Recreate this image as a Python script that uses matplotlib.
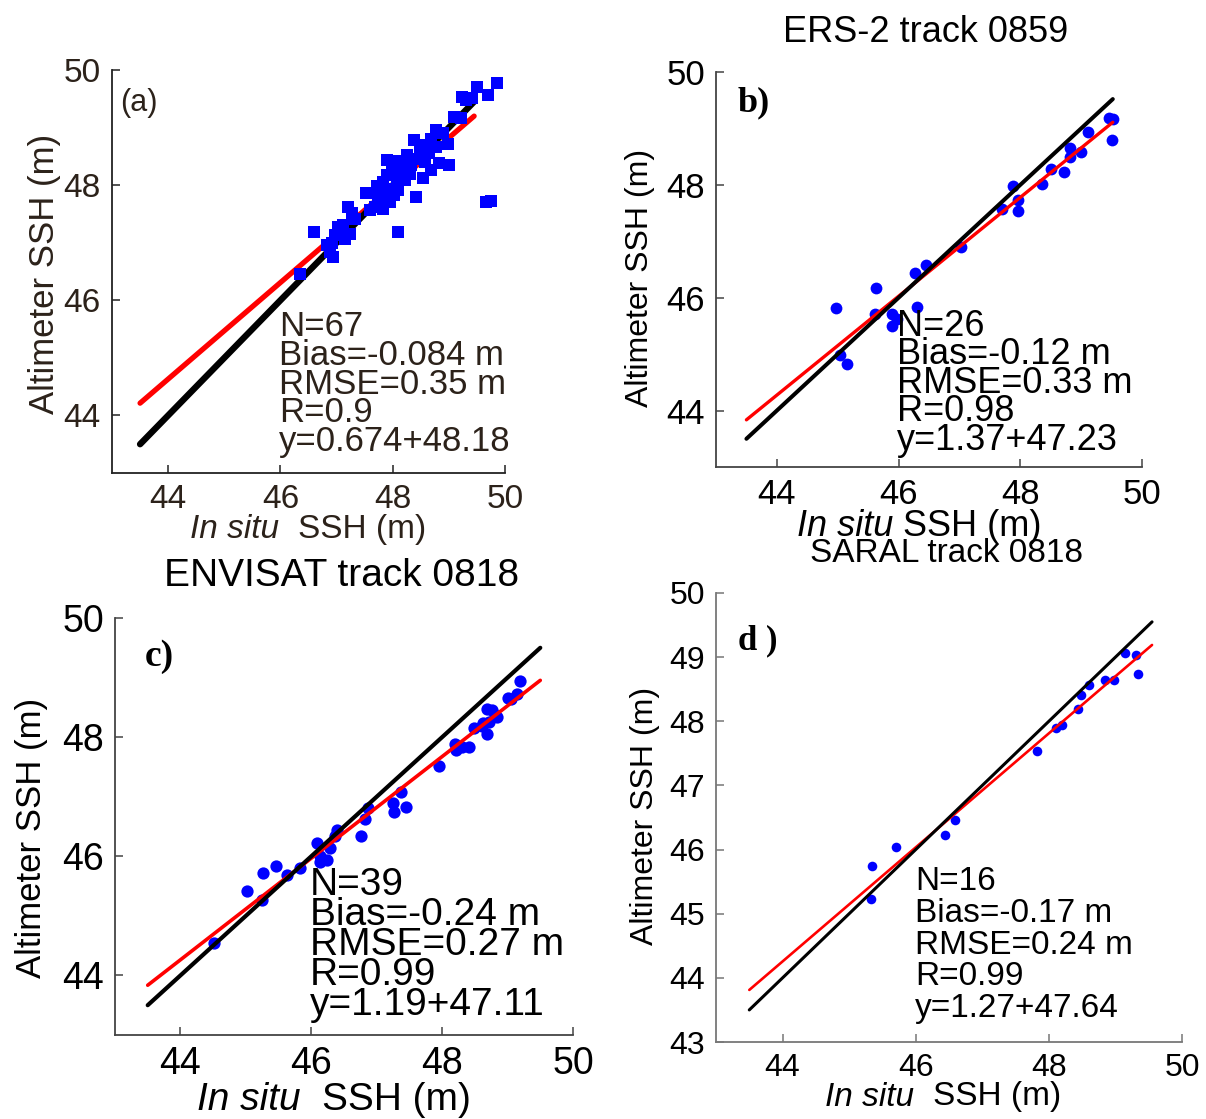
import matplotlib
matplotlib.use("Agg")
import matplotlib.pyplot as plt
import numpy as np

# ---------------- data ----------------
# (a) 67 collocations (squares)
insitu_a = [49.85, 49.51, 49.70, 49.23, 49.41, 49.30, 49.10, 49.22, 48.77, 48.89,
            48.68, 48.98, 48.60, 48.77, 48.48, 48.65, 48.42, 48.57, 48.83, 49.01,
            48.33, 48.68, 47.98, 48.18, 48.01, 47.89, 48.30, 48.54, 47.83, 48.07,
            48.21, 47.95, 48.09, 47.80, 47.58, 48.42, 47.89, 47.74, 47.95, 47.68,
            47.83, 47.59, 47.21, 47.27, 49.67, 49.75, 48.09, 46.59, 47.12, 47.03,
            47.24, 46.97, 47.15, 46.83, 46.88, 46.94, 46.35, 47.03, 47.53, 48.12,
            48.26, 47.72, 48.02, 48.38, 47.90, 47.33, 46.92]
alti_a = [49.77, 49.71, 49.57, 49.53, 49.51, 49.48, 49.19, 49.16, 48.96, 48.90,
          48.81, 48.72, 48.70, 48.67, 48.58, 48.55, 48.46, 48.41, 48.38, 48.35,
          48.35, 48.26, 48.35, 48.29, 48.17, 48.17, 48.20, 48.12, 48.06, 48.03,
          48.09, 47.94, 47.91, 47.88, 47.86, 47.80, 47.80, 47.74, 47.71, 47.62,
          47.59, 47.57, 47.62, 47.51, 47.70, 47.72, 47.19, 47.19, 47.30, 47.22,
          47.16, 47.13, 47.07, 46.96, 46.84, 46.75, 46.46, 47.27, 47.86, 48.42,
          48.52, 47.98, 47.83, 48.78, 48.44, 47.42, 47.00]

# (b) ERS-2 track 0859
insitu_b = [44.97, 45.04, 45.15, 45.63, 45.61, 45.90, 45.98, 45.89, 46.27, 46.45,
            46.31, 47.02, 47.70, 47.88, 47.97, 47.97, 48.36, 48.50, 48.72, 48.81,
            48.82, 49.00, 49.11, 49.45, 49.52, 49.51]
alti_b = [45.81, 44.99, 44.82, 46.18, 45.71, 45.72, 45.63, 45.50, 46.44, 46.58,
          45.84, 46.90, 47.58, 47.98, 47.73, 47.54, 48.02, 48.28, 48.22, 48.50,
          48.65, 48.58, 48.94, 49.19, 49.17, 48.80]

# (c) ENVISAT track 0818
insitu_c = [44.52, 45.01, 45.25, 45.26, 45.46, 45.63, 45.82, 46.09, 46.14, 46.14,
            46.24, 46.29, 46.37, 46.40, 46.76, 46.82, 46.86, 47.25, 47.26, 47.37,
            47.44, 47.95, 48.20, 48.21, 48.30, 48.41, 48.48, 48.61, 48.68, 48.69,
            48.76, 48.71, 48.84, 48.81, 49.00, 49.06, 49.14, 49.19, 48.63]
alti_c = [44.54, 45.42, 45.26, 45.72, 45.84, 45.69, 45.81, 46.22, 46.01, 45.90,
          45.94, 46.14, 46.34, 46.44, 46.34, 46.63, 46.81, 46.90, 46.74, 47.08,
          46.83, 47.51, 47.88, 47.78, 47.84, 47.83, 48.16, 48.18, 48.06, 48.47,
          48.45, 48.26, 48.34, 48.38, 48.66, 48.64, 48.72, 48.95, 48.23]

# (d) SARAL track 0818
insitu_d = [45.35, 45.33, 45.70, 46.44, 46.59, 47.82, 48.10, 48.19, 48.44, 48.48,
            48.61, 48.84, 48.98, 49.14, 49.31, 49.34]
alti_d = [45.75, 45.23, 46.04, 46.22, 46.46, 47.54, 47.90, 47.94, 48.19, 48.41,
          48.57, 48.64, 48.64, 49.07, 49.04, 48.74]

# fitted regression lines (slope, intercept) and the 1:1 reference span
fit_slope = [0.838, 0.876, 0.853, 0.889]
fit_intercept = [7.76, 5.73, 6.73, 5.14]
line_start = [43.5, 43.5, 43.5, 43.5]
line_end = [49.45, 49.52, 49.5, 49.55]

panel_tags = ["(a)", "b)", "c)", "d )"]
panel_titles = [None, "ERS-2 track 0859", "ENVISAT track 0818", "SARAL track 0818"]
stats_a = ["N=67", "Bias=-0.084 m", "RMSE=0.35 m", "R=0.9", "y=0.674+48.18"]
stats_b = ["N=26", "Bias=-0.12 m", "RMSE=0.33 m", "R=0.98", "y=1.37+47.23"]
stats_c = ["N=39", "Bias=-0.24 m", "RMSE=0.27 m", "R=0.99", "y=1.19+47.11"]
stats_d = ["N=16", "Bias=-0.17 m", "RMSE=0.24 m", "R=0.99", "y=1.27+47.64"]
ticks_xy = [44, 46, 48, 50]
ticks_y_d = [43, 44, 45, 46, 47, 48, 49, 50]

# ---------------- layout ----------------
W, H = 1206, 1119
fig = plt.figure(figsize=(W / 100, H / 100), dpi=100)
fig.patch.set_facecolor("white")


def rect(l, r, t, b):
    return [l / W, 1 - b / H, (r - l) / W, (b - t) / H]


def ftext(x, y, s, **kw):
    return fig.text(x / W, 1 - y / H, s, **kw)


SANS = ["Liberation Sans", "DejaVu Sans"]
SERIF = ["Liberation Serif", "DejaVu Serif"]
dark_a = "#2c221a"

specs = [
    dict(rect=rect(112, 505, 70, 473), x=insitu_a, y=alti_a, marker="s", ms=72,
         lw_k=4.6, lw_r=3.8, tfs=24, color=dark_a, yt=ticks_xy, spine="#222222"),
    dict(rect=rect(716, 1142, 72, 467), x=insitu_b, y=alti_b, marker="o", ms=72,
         lw_k=2.9, lw_r=2.4, tfs=25, color="black", yt=ticks_xy, spine="#444444"),
    dict(rect=rect(115, 573, 618, 1035), x=insitu_c, y=alti_c, marker="o", ms=78,
         lw_k=3.0, lw_r=2.6, tfs=27, color="black", yt=ticks_xy, spine="#444444"),
    dict(rect=rect(716, 1182, 593, 1042), x=insitu_d, y=alti_d, marker="o", ms=48,
         lw_k=2.2, lw_r=1.9, tfs=23, color="black", yt=ticks_y_d, spine="#777777"),
]

for i, sp in enumerate(specs):
    ax = fig.add_axes(sp["rect"])
    xs = np.array([line_start[i], line_end[i]])
    pts_z, line_z = (3, 2) if i == 0 else (2, 3)
    ax.scatter(sp["x"], sp["y"], marker=sp["marker"], s=sp["ms"], color="#0000ff",
               linewidths=0, zorder=pts_z)
    ax.plot(xs, fit_slope[i] * xs + fit_intercept[i], color="red", lw=sp["lw_r"],
            solid_capstyle="round", zorder=line_z)
    ax.plot(xs, xs, color="black", lw=sp["lw_k"], solid_capstyle="round", zorder=line_z)

    ax.set_xlim(43, 50)
    ax.set_ylim(43, 50)
    ax.set_xticks(ticks_xy)
    ax.set_yticks(sp["yt"])
    for s in ("top", "right"):
        ax.spines[s].set_visible(False)
    for s in ("left", "bottom"):
        ax.spines[s].set_color(sp["spine"])
        ax.spines[s].set_linewidth(1.3)
    ax.tick_params(direction="in", length=6, width=1.1, color=sp["spine"],
                   labelsize=sp["tfs"], labelcolor=sp["color"], pad=8)
    for lab in ax.get_xticklabels() + ax.get_yticklabels():
        lab.set_fontfamily(SANS)
    ax.set_facecolor("white")

# panel tags
ftext(120, 103, panel_tags[0], fontsize=22, family=SANS, color=dark_a, va="center", ha="left")
ftext(738, 103, panel_tags[1], fontsize=26, family=SERIF, weight="bold", va="center", ha="left")
ftext(145, 656, panel_tags[2], fontsize=27, family=SERIF, weight="bold", va="center", ha="left")
ftext(738, 641, panel_tags[3], fontsize=25, family=SERIF, weight="bold", va="center", ha="left")

# titles
ftext(926, 32, panel_titles[1], fontsize=26, family=SANS, ha="center", va="center")
ftext(342, 576, panel_titles[2], fontsize=28, family=SANS, ha="center", va="center")
ftext(946, 553, panel_titles[3], fontsize=24, family=SANS, ha="center", va="center")

# y labels
ftext(45, 274, "Altimeter SSH (m)", fontsize=25, family=SANS, color=dark_a,
      rotation=90, ha="center", va="center")
ftext(640, 278, "Altimeter SSH (m)", fontsize=23, family=SANS,
      rotation=90, ha="center", va="center")
ftext(32, 838, "Altimeter SSH (m)", fontsize=25, family=SANS,
      rotation=90, ha="center", va="center")
ftext(645, 816, "Altimeter SSH (m)", fontsize=23, family=SANS,
      rotation=90, ha="center", va="center")


# x labels: italic "In situ" followed by upright "SSH (m)"
def xlabel(xl, y, first, rest, fs, color="black"):
    t1 = ftext(xl, y, first, fontsize=fs, family=SANS, style="italic",
               color=color, ha="left", va="center")
    fig.canvas.draw()
    bb = t1.get_window_extent()
    fig.text(bb.x1 / W, 1 - y / H, rest, fontsize=fs, family=SANS, color=color,
             ha="left", va="center")


xlabel(190, 530, "In situ  ", "SSH (m)", 24, dark_a)
xlabel(797, 527, "In situ", " SSH (m)", 26)
xlabel(197, 1100, "In situ  ", "SSH (m)", 28)
xlabel(825, 1097, "In situ  ", "SSH (m)", 24)


# statistics blocks, one line at a time with tight spacing
def stats(lines, xl, y0, dy, fs, color="black"):
    for k, s in enumerate(lines):
        ftext(xl, y0 + k * dy, s, fontsize=fs, family=SANS, color=color,
              ha="left", va="center")


stats(stats_a, 279, 327, 28.5, 25, dark_a)
stats(stats_b, 897, 326, 28.5, 26)
stats(stats_c, 310, 885, 30, 28)
stats(stats_d, 915, 882, 31.5, 24)

fig.savefig("out.png", dpi=100, facecolor="white")
